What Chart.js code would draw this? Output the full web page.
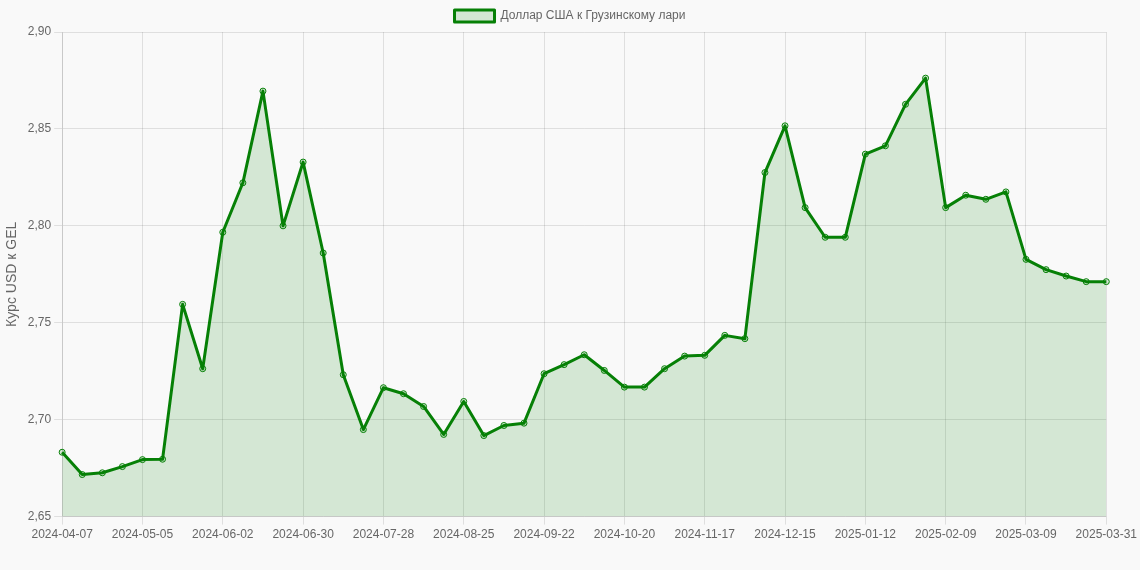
<!DOCTYPE html>
<html>
<head>
<meta charset="utf-8">
<script src="https://cdn.jsdelivr.net/npm/chart.js@4.4.1/dist/chart.umd.min.js"></script>
<style>
  html, body { margin: 0; padding: 0; background: #f9f9f9; }
  #wrap { width: 1140px; height: 570px; }
</style>
</head>
<body>
<div id="wrap"><canvas id="chart-usd-gel"></canvas></div>
<script>
// недельные даты (категории оси X)
const dates = [
  '2024-04-07', '2024-04-14', '2024-04-21', '2024-04-28', '2024-05-05', '2024-05-12', '2024-05-19',
  '2024-05-26', '2024-06-02', '2024-06-09', '2024-06-16', '2024-06-23', '2024-06-30', '2024-07-07',
  '2024-07-14', '2024-07-21', '2024-07-28', '2024-08-04', '2024-08-11', '2024-08-18', '2024-08-25',
  '2024-09-01', '2024-09-08', '2024-09-15', '2024-09-22', '2024-09-29', '2024-10-06', '2024-10-13',
  '2024-10-20', '2024-10-27', '2024-11-03', '2024-11-10', '2024-11-17', '2024-11-24', '2024-12-01',
  '2024-12-08', '2024-12-15', '2024-12-22', '2024-12-29', '2025-01-05', '2025-01-12', '2025-01-19',
  '2025-01-26', '2025-02-02', '2025-02-09', '2025-02-16', '2025-02-23', '2025-03-02', '2025-03-09',
  '2025-03-16', '2025-03-23', '2025-03-30', '2025-03-31',
];

// курс USD к GEL
const usdGel = [
  2.6832, 2.6717, 2.6726, 2.6758, 2.6794, 2.6796, 2.7595,
  2.7263, 2.7967, 2.8222, 2.8695, 2.8000, 2.8329, 2.7860,
  2.7232, 2.6949, 2.7165, 2.7134, 2.7068, 2.6924, 2.7094,
  2.6918, 2.6970, 2.6982, 2.7237, 2.7284, 2.7335, 2.7254,
  2.7168, 2.7168, 2.7263, 2.7328, 2.7332, 2.7435, 2.7418,
  2.8275, 2.8516, 2.8094, 2.7941, 2.7941, 2.8370, 2.8413,
  2.8627, 2.8762, 2.8094, 2.8158, 2.8137, 2.8175, 2.7827,
  2.7774, 2.7741, 2.7712, 2.7712,
];

const yMin = 2.65;
const yMax = 2.90;
const yStep = 0.05;
const labelEvery = 4;

Chart.defaults.font.family = '"Liberation Sans", Arial, sans-serif';
Chart.defaults.font.size = 12;
Chart.defaults.color = '#666';

const gridColor = (ctx) => (ctx.index % labelEvery === 0 ? 'rgba(0,0,0,0.1)' : 'transparent');

new Chart(document.getElementById('chart-usd-gel'), {
  type: 'line',
  data: {
    labels: dates,
    datasets: [{
      label: 'Доллар США к Грузинскому лари',
      data: usdGel,
      borderColor: '#068006',
      backgroundColor: 'rgba(0,128,0,0.15)',
      pointBackgroundColor: 'rgba(0,128,0,0.15)',
      pointBorderColor: '#068006',
      pointBorderWidth: 1,
      pointRadius: 3,
      borderWidth: 3,
      borderJoinStyle: 'round',
      tension: 0,
      fill: true,
    }],
  },
  options: {
    responsive: true,
    maintainAspectRatio: false,
    animation: false,
    layout: { padding: { bottom: 25 } },
    plugins: {
      legend: {
        display: true,
        labels: { boxWidth: 40, boxHeight: 12 },
      },
      tooltip: { enabled: false },
    },
    scales: {
      x: {
        grid: { color: gridColor },
        ticks: {
          autoSkip: false,
          maxRotation: 0,
          callback: (v, i) => (i % labelEvery === 0 ? dates[i] : ''),
        },
      },
      y: {
        min: yMin,
        max: yMax,
        title: { display: true, text: 'Курс USD к GEL', font: { size: 14 } },
        ticks: {
          stepSize: yStep,
          callback: (v) => v.toFixed(2).replace('.', ','),
        },
      },
    },
  },
});
</script>
</body>
</html>
